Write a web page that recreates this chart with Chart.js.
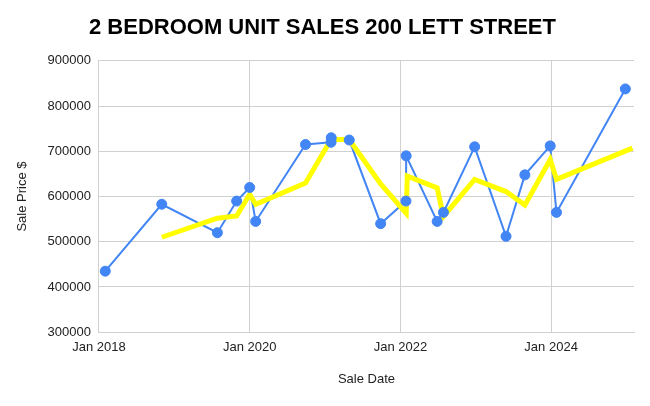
<!DOCTYPE html>
<html>
<head>
<meta charset="utf-8">
<script src="https://cdn.jsdelivr.net/npm/chart.js@4"></script>
<style>
  html, body { margin: 0; padding: 0; background: #fff; }
  #wrap { width: 650px; height: 406px; }
</style>
</head>
<body>
<div id="wrap"><canvas id="salesChart"></canvas></div>
<script>
// individual sales (blue)
const saleDates = [
  "2018-02-01", "2018-11-01", "2019-07-27", "2019-10-29", "2020-01-01",
  "2020-01-30", "2020-09-28", "2021-01-30", "2021-01-31", "2021-04-27",
  "2021-09-27", "2022-01-28", "2022-01-29", "2022-06-27", "2022-07-27",
  "2022-12-26", "2023-05-26", "2023-08-26", "2023-12-27", "2024-01-27",
  "2024-12-26"
];
const salePrices = [
  435000, 583000, 520000, 590000, 620000,
  545000, 715000, 720000, 730000, 725000,
  540000, 590000, 690000, 545000, 565000,
  710000, 512000, 648000, 712000, 565000,
  838000
];

// trend line (yellow)
const trendDates = [
  "2018-11-01", "2019-07-27", "2019-10-29", "2020-01-01", "2020-01-30",
  "2020-09-28", "2021-01-30", "2021-01-31", "2021-04-27", "2021-09-27",
  "2022-01-29", "2022-02-04", "2022-06-27", "2022-07-27", "2022-12-26",
  "2023-05-26", "2023-08-26", "2023-12-27", "2024-01-27", "2025-01-30"
];
const trendPrices = [
  510000, 552000, 557000, 605000, 583000,
  630000, 726000, 726000, 726000, 628000,
  563000, 645000, 619000, 556000, 638000,
  611000, 581000, 682000, 638000, 707000
];

const tickYears = [2018, 2020, 2022, 2024];

function toYear(s) {
  const [y, m, d] = s.split("-").map(Number);
  return y + (m - 1) / 12 + (d - 1) / 365;
}

function points(dates, values) {
  return dates.map((d, i) => ({ x: toYear(d), y: values[i] }));
}

const font = "'Liberation Sans', Arial, sans-serif";
const blue = "#4285f4";

new Chart(document.getElementById("salesChart"), {
  type: "line",
  data: {
    datasets: [
      // markers on top of both lines
      {
        label: "Sales",
        data: points(saleDates, salePrices),
        showLine: false,
        backgroundColor: blue,
        borderColor: blue,
        pointRadius: 5,
        pointHoverRadius: 5,
        order: 0,
      },
      {
        label: "Trend",
        data: points(trendDates, trendPrices),
        borderColor: "#ffff00",
        borderWidth: 5,
        pointRadius: 0,
        tension: 0,
        order: 1,
      },
      {
        label: "Sale Price",
        data: points(saleDates, salePrices),
        borderColor: blue,
        borderWidth: 2,
        pointRadius: 0,
        tension: 0,
        order: 2,
      },
    ],
  },
  options: {
    responsive: true,
    maintainAspectRatio: false,
    animation: false,
    layout: { padding: { left: 11, right: 16, bottom: 15 } },
    plugins: {
      legend: { display: false },
      tooltip: { enabled: false },
      title: {
        display: true,
        text: "2 BEDROOM UNIT SALES 200 LETT STREET",
        color: "#000",
        font: { family: font, size: 22, weight: "bold" },
        padding: { top: 15, bottom: 19.5 },
      },
    },
    scales: {
      x: {
        type: "linear",
        min: 2018,
        max: 2025.1,
        afterBuildTicks: (scale) => {
          scale.ticks = tickYears.map((v) => ({ value: v }));
        },
        ticks: {
          color: "#222",
          font: { family: font, size: 13 },
          maxRotation: 0,
          padding: 7,
          callback: (v) => "Jan " + v,
        },
        grid: { color: "#d0d0d0", drawTicks: false },
        border: { color: "#d0d0d0" },
        title: {
          display: true,
          text: "Sale Date",
          color: "#222",
          font: { family: font, size: 13 },
          padding: { top: 9.6 },
        },
      },
      y: {
        min: 300000,
        max: 900000,
        ticks: {
          stepSize: 100000,
          color: "#222",
          font: { family: font, size: 13 },
          padding: 8,
          callback: (v) => String(v),
        },
        grid: { color: "#d0d0d0", drawTicks: false },
        border: { color: "#d0d0d0" },
        title: {
          display: true,
          text: "Sale Price $",
          color: "#222",
          font: { family: font, size: 13 },
          padding: { bottom: 9 },
        },
      },
    },
  },
});
</script>
</body>
</html>
